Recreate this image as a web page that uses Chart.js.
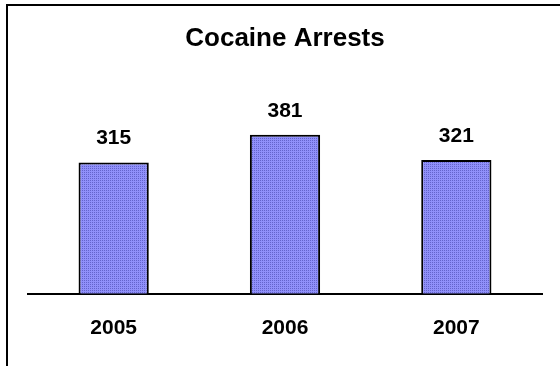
<!DOCTYPE html>
<html>
<head>
<meta charset="utf-8">
<script src="https://cdn.jsdelivr.net/npm/chart.js@4"></script>
<style>
  body { margin: 0; background: #fff; }
  canvas { display: block; }
</style>
</head>
<body>
<canvas id="chart" width="560" height="366"></canvas>
<script>
// chart data
const years = ['2005', '2006', '2007'];
const arrests = [315, 381, 321];
const chartTitle = 'Cocaine Arrests';

// stippled blue fill like the original bars
function dotPattern() {
    const c = document.createElement('canvas');
    c.width = 2;
    c.height = 2;
    const g = c.getContext('2d');
    g.fillStyle = '#9090fa';
    g.fillRect(0, 0, 2, 2);
    g.fillStyle = '#6464cc';
    g.fillRect(0, 0, 1, 1);
    return g.createPattern(c, 'repeat');
}

const frame = {
    id: 'frame',
    afterDraw(chart) {
        const ctx = chart.ctx;
        ctx.save();
        ctx.strokeStyle = '#000';
        ctx.lineWidth = 2;
        ctx.beginPath();
        ctx.moveTo(560, 5);
        ctx.lineTo(7, 5);
        ctx.lineTo(7, 366);
        ctx.stroke();
        ctx.restore();
    }
};

const valueLabels = {
    id: 'valueLabels',
    afterDatasetsDraw(chart) {
        const ctx = chart.ctx;
        const meta = chart.getDatasetMeta(0);
        ctx.save();
        ctx.font = 'bold 21px "Liberation Sans", Arial, sans-serif';
        ctx.fillStyle = '#000';
        ctx.textAlign = 'center';
        ctx.textBaseline = 'middle';
        meta.data.forEach((bar, i) => {
            ctx.fillText(arrests[i], bar.x, bar.y - 24);
        });
        ctx.restore();
    }
};

var ctx = document.getElementById('chart').getContext('2d');
var myChart = new Chart(ctx, {
    type: 'bar',
    data: {
        labels: years,
        datasets: [{
            data: arrests,
            backgroundColor: dotPattern(),
            borderColor: '#000',
            borderWidth: 2,
            barPercentage: 0.41,
            categoryPercentage: 1
        }]
    },
    options: {
        responsive: false,
        animation: false,
        layout: { padding: { left: 28, right: 18, top: 0, bottom: 3 } },
        plugins: {
            legend: { display: false },
            tooltip: { enabled: false },
            title: {
                display: true,
                text: chartTitle,
                color: '#000',
                font: { family: '"Liberation Sans", Arial, sans-serif', size: 26, weight: 'bold' },
                padding: { top: 23, bottom: 31 }
            }
        },
        scales: {
            x: {
                grid: { display: false, drawTicks: false },
                border: { color: '#000', width: 2 },
                ticks: {
                    color: '#000',
                    padding: 22,
                    font: { family: '"Liberation Sans", Arial, sans-serif', size: 21, weight: 'bold' }
                }
            },
            y: {
                display: false,
                min: 0,
                max: 500
            }
        }
    },
    plugins: [frame, valueLabels]
});
</script>
</body>
</html>
